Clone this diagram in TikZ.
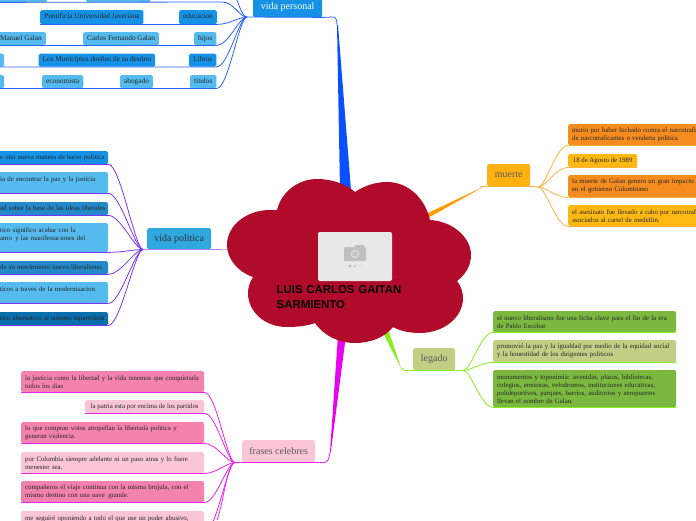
\documentclass[tikz,border=0pt]{standalone}
\usepackage{fontspec}
\setmainfont{Liberation Serif}
\newfontfamily\titlefont{Liberation Sans}
\definecolor{cloudred}{HTML}{B00B2B}
\definecolor{skyA}{HTML}{55BBEE}
\definecolor{skyB}{HTML}{1592E6}
\definecolor{skyC}{HTML}{2389C9}
\definecolor{skyD}{HTML}{0A6FAD}
\definecolor{skyE}{HTML}{2FA8E0}
\definecolor{pinkA}{HTML}{F382AE}
\definecolor{pinkB}{HTML}{FAC5D4}
\definecolor{orangeA}{HTML}{F58C20}
\definecolor{orangeB}{HTML}{FDB813}
\definecolor{greenA}{HTML}{7AB840}
\definecolor{greenB}{HTML}{C1CF85}
\definecolor{wireblue}{HTML}{2A62FF}
\definecolor{wirepurple}{HTML}{7733FF}
\definecolor{wirepink}{HTML}{EE22EE}
\definecolor{wireorange}{HTML}{FDB23C}
\definecolor{wiregreen}{HTML}{88EE22}
\definecolor{taperblue}{HTML}{0A50FF}
\definecolor{taperpink}{HTML}{E800F0}
\definecolor{taperorange}{HTML}{FF9A00}
\tikzset{
    leaf/.style={rounded corners=1.5pt, anchor=north west, inner xsep=4pt, inner ysep=0pt, font=\fontsize{6.8}{8}\selectfont, text=black!85, align=left},
    oneline/.style={leaf, text height=4.8pt, text depth=1.5pt},
    rowleaf/.style={oneline, font=\fontsize{7.3}{8}\selectfont, align=center},
    branch/.style={rounded corners=1.5pt, anchor=north west, inner sep=0pt, font=\fontsize{10}{12}\selectfont, align=center},
    wire/.style={line width=0.8pt}
}
\begin{document}
\begin{tikzpicture}[x=1pt,y=-1pt]
    \useasboundingbox (0,0) rectangle (696,520);
    \clip (0,0) rectangle (696,520);

    \node[branch, fill=skyB, text=white, minimum width=69pt, minimum height=21pt] (personal) at (253,-4) {vida personal};
    \node[branch, fill=skyE, text=black!80, minimum width=64pt, minimum height=21pt] (politica) at (147,228) {vida politica};
    \node[branch, fill=pinkB, text=black!65, minimum width=73pt, minimum height=22pt] (frases) at (242,440) {frases celebres};
    \node[branch, fill=orangeB!90!orange, text=black!65, minimum width=43pt, minimum height=22pt] (muerte) at (487,164) {muerte};
    \node[branch, fill=greenB, text=black!65, minimum width=42pt, minimum height=22pt] (legado) at (413,348) {legado};

    \coordinate (personalhub) at (247,17);
    \coordinate (politicahub) at (143,249.5);
    \coordinate (fraseshub) at (235,462.5);
    \coordinate (muertehub) at (538,187);
    \coordinate (legadohub) at (463,370.5);

    \node[leaf, fill=skyA, minimum width=51pt, minimum height=13pt] (topa) at (-4,-11) {};
    \node[leaf, fill=skyA, minimum width=64pt, minimum height=13pt] (topb) at (86,-11) {};
    \node[rowleaf, fill=skyB, minimum width=101pt, minimum height=14pt] (pontificia) at (40,10) {Pontificia Universidad Javeriana};
    \node[rowleaf, fill=skyB, minimum width=36pt, minimum height=14pt] (educacion) at (179,10) {educacion};
    \node[rowleaf, fill=skyA, minimum width=48pt, minimum height=13pt] (manuel) at (-4,32) {Manuel Galan};
    \node[rowleaf, fill=skyA, minimum width=72pt, minimum height=13pt] (carlos) at (83,32) {Carlos Fernando Galan};
    \node[rowleaf, fill=skyA, minimum width=21pt, minimum height=13pt] (hijos) at (194,32) {hijos};
    \node[leaf, fill=skyA, minimum width=5pt, minimum height=13pt] (librosa) at (-4,53.5) {};
    \node[rowleaf, fill=skyB, minimum width=112pt, minimum height=13pt] (municipios) at (38.5,53.5) {Los Municipios dueños de su destino};
    \node[rowleaf, fill=skyB, minimum width=27pt, minimum height=13pt] (libros) at (189,53.5) {Libros};
    \node[leaf, fill=skyA, minimum width=8pt, minimum height=13pt] (titulosa) at (-4,75) {};
    \node[rowleaf, fill=skyA, minimum width=40pt, minimum height=13pt] (economista) at (42,75) {economista};
    \node[rowleaf, fill=skyA, minimum width=31pt, minimum height=13pt] (abogado) at (120,75) {abogado};
    \node[rowleaf, fill=skyA, minimum width=25pt, minimum height=13pt] (titulos) at (190,75) {titulos};

    \node[oneline, fill=skyB, text width=104pt, minimum height=13pt] (pola) at (-4,151) {\mbox{e una nueva manera de hacer politica}};
    \node[leaf, fill=skyA, text width=104pt, minimum height=21pt] (polb) at (-4,172) {\mbox{ia de encontrar la paz y la justicia}\\ \mbox{}};
    \node[oneline, fill=skyC, text width=104pt, minimum height=13pt] (polc) at (-4,202) {\mbox{ad sobre la base de las ideas liberales}};
    \node[leaf, fill=skyA, text width=104pt, minimum height=29pt] (pold) at (-4,223) {\mbox{tico significo acabar con la}\\\mbox{amo\, y las manifestaciones del}\\ \mbox{}};
    \node[oneline, fill=skyC, text width=104pt, minimum height=13pt] (pole) at (-4,261) {\mbox{de su movimiento nuevo liberalismo}};
    \node[leaf, fill=skyA, text width=104pt, minimum height=21pt] (polf) at (-4,282) {\mbox{ticos a traves de la modernisacion}\\ \mbox{}};
    \node[oneline, fill=skyD, text width=104pt, minimum height=13pt] (polg) at (-4,312) {\mbox{tico alternativo al sistema bipartidista}};

    \node[leaf, fill=pinkA, text width=175pt, minimum height=21pt] (fraa) at (21,371) {\mbox{la justicia como la libertad y la vida tenemos que conquistarla}\\todos los dias};
    \node[oneline, fill=pinkB, minimum width=119pt, minimum height=13pt, align=center] (frab) at (85,400) {la patria esta por encima de los partidos};
    \node[leaf, fill=pinkA, text width=175pt, minimum height=21pt] (frac) at (21,422) {\mbox{lo que compran votos atropellan la libertada politica y}\\generan violencia.};
    \node[leaf, fill=pinkB, text width=175pt, minimum height=21pt] (frad) at (21,452) {\mbox{por Colombia siempre adelante ni un paso atras y lo fuere}\\menester sea.};
    \node[leaf, fill=pinkA, text width=175pt, minimum height=21pt] (frae) at (21,481) {\mbox{compañeros el viaje continua con la misma brujula, con el}\\mismo destino con una nave\, grande.};
    \node[leaf, fill=pinkB, text width=175pt, minimum height=21pt] (fraf) at (21,511) {\mbox{me seguiré oponiendo a todo el que use un poder abusivo,}\\ \mbox{}};
    \coordinate (frag) at (217,520);

    \node[leaf, fill=orangeA, text width=140pt, minimum height=21pt] (muea) at (568,124) {\mbox{murio por haber luchado contra el narcotrafi}\\de narcotraficantes o vendetta politica};
    \node[oneline, fill=orangeB, minimum width=69pt, minimum height=13pt] (mueb) at (568,154) {18 de Agosto de 1989};
    \node[leaf, fill=orangeA, text width=140pt, minimum height=22pt] (muec) at (568,175) {\mbox{la muerte de Galan genero un gran impacto a}\\en el gobierno Colombiano};
    \node[leaf, fill=orangeB, text width=140pt, minimum height=21pt] (mued) at (568,205) {\mbox{el asesinato fue llevado a cabo por narcotrafi}\\asociados al cartel de medellin.};

    \node[leaf, fill=greenA, text width=175pt, minimum height=21pt] (lega) at (493,311) {\mbox{el nuevo liberalismo fue una ficha clave para el fin de la era}\\de Pablo Escobar};
    \node[leaf, fill=greenB, text width=175pt, minimum height=22pt] (legb) at (493,340) {\mbox{promovió la paz y la igualdad por medio de la equidad social}\\y la honestidad de los dirigentes politicos};
    \node[leaf, fill=greenA, text width=175pt, minimum height=37pt] (legc) at (493,370) {\mbox{monumentos y toponimia: avenidas, plazas, bibliotecas,}\\\mbox{colegios, emisoras, velodromos, instituciones educativas,}\\\mbox{polideportivos, parques, barrios, auditorios y aeropuertos}\\llevan el nombre de Galan.};

    \coordinate (topc) at (225,-14);
    \coordinate (topd) at (222,2);
    \draw[wire, wireblue] (topa.south west) -- (topd) .. controls +(12,0) and +(-8,0) .. (personalhub);
    \draw[wire, wireblue] (topc) .. controls +(12,0) and +(-8,0) .. (personalhub);
    \draw[wire, wireblue] (pontificia.south west) -- (educacion.south east) .. controls +(12,0) and +(-8,0) .. (personalhub);
    \draw[wire, wireblue] (manuel.south west) -- (hijos.south east) .. controls +(12,0) and +(-8,0) .. (personalhub);
    \draw[wire, wireblue] (librosa.south west) -- (libros.south east) .. controls +(12,0) and +(-8,0) .. (personalhub);
    \draw[wire, wireblue] (titulosa.south west) -- (titulos.south east) .. controls +(12,0) and +(-8,0) .. (personalhub);

    \foreach \leafname in {pola,polb,polc,pold,pole,polf,polg}
        \draw[wire, wirepurple] (\leafname.south west) -- (\leafname.south east) .. controls +(12,0) and +(-8,0) .. (politicahub);
    \foreach \leafname in {fraa,frab,frac,frad,frae,fraf}
        \draw[wire, wirepink] (\leafname.south west) -- (\leafname.south east) .. controls +(12,0) and +(-8,0) .. (fraseshub);
    \draw[wire, wirepink] (frag) .. controls +(6,-14) and +(-8,0) .. (fraseshub);
    \foreach \leafname in {muea,mueb,muec,mued}
        \draw[wire, wireorange] (\leafname.south east) -- (\leafname.south west) .. controls +(-12,0) and +(8,0) .. (muertehub);
    \foreach \leafname in {lega,legb,legc}
        \draw[wire, wiregreen] (\leafname.south east) -- (\leafname.south west) .. controls +(-12,0) and +(8,0) .. (legadohub);

    \coordinate (personalroot) at (337,25);
    \coordinate (frasesroot) at (330,452);
    \coordinate (muerteroot) at (484,186.5);
    \coordinate (legadoroot) at (401,368);
    \coordinate (politicaroot) at (235,250);

    \draw[wire, wireblue] (personalhub) -- (personal.south east) -- (333,17) .. controls (336,17) and (337,20) .. (personalroot);
    \draw[wire, wirepurple!60] (politicahub) -- (politica.south east) -- (politicaroot);
    \draw[wire, wirepink] (fraseshub) -- (frases.south east) -- (324,462.5) .. controls (328,462.5) and (329,459) .. (frasesroot);
    \draw[wire, wireorange] (muertehub) -- (muerte.south east) -- (muerte.south west) -- (480,186.5);
    \draw[wire, wiregreen] (legadohub) -- (legado.south east) -- (legado.south west) -- (405,370.5) -- (legadoroot);

    \fill[taperblue] (personalroot) -- +(1,0) -- (351,190) -- (340,190) -- cycle;
    \fill[taperpink] (frasesroot) -- +(0.8,0) -- (346,335) -- (338,335) -- cycle;
    \fill[taperorange] (muerteroot) -- (428,213) -- (428,218) -- cycle;
    \fill[wiregreen] (legadoroot) -- (383,333) -- (389,332) -- cycle;

    \fill[cloudred] (277,210) .. controls (282,190) and (300,179) .. (317,179)
        .. controls (332,179) and (346,184) .. (355,192)
        .. controls (364,186) and (375,182) .. (387,182)
        .. controls (408,182) and (425,198) .. (430,220)
        .. controls (452,221) and (471,237) .. (471,255)
        .. controls (471,266) and (465,275) .. (457,281)
        .. controls (461,286) and (463,292) .. (463,298)
        .. controls (463,318) and (443,333) .. (420,333)
        .. controls (410,333) and (400,331) .. (393,327)
        .. controls (385,337) and (371,343) .. (355,343)
        .. controls (338,343) and (323,335) .. (315,323)
        .. controls (307,326) and (297,327) .. (287,327)
        .. controls (265,327) and (248,312) .. (248,293)
        .. controls (248,287) and (250,282) .. (253,277)
        .. controls (238,272) and (227,259) .. (227,245)
        .. controls (227,225) and (247,210) .. (270,210) -- cycle;

    \fill[black!9, rounded corners=2pt] (318,232) rectangle (392,281);
    \fill[black!25, rounded corners=1pt] (344,247) rectangle (366,261);
    \fill[black!25] (355,245) rectangle (364,248);
    \fill[black!12] (355,254) circle (4.2);
    \fill[black!25] (355,254) circle (2.8);
    \fill[black!40] (350,266) circle (1.1);
    \fill[black!22] (355,266) circle (1.1);
    \fill[black!12] (360,266) circle (1.1);
    \node[anchor=north west, inner sep=0pt, text width=135pt, align=left, font=\titlefont\bfseries\fontsize{11.4}{15}\selectfont, text=black] (title) at (276.5,285.5) {LUIS CARLOS GAITAN\\SARMIENTO};
\end{tikzpicture}
\end{document}
